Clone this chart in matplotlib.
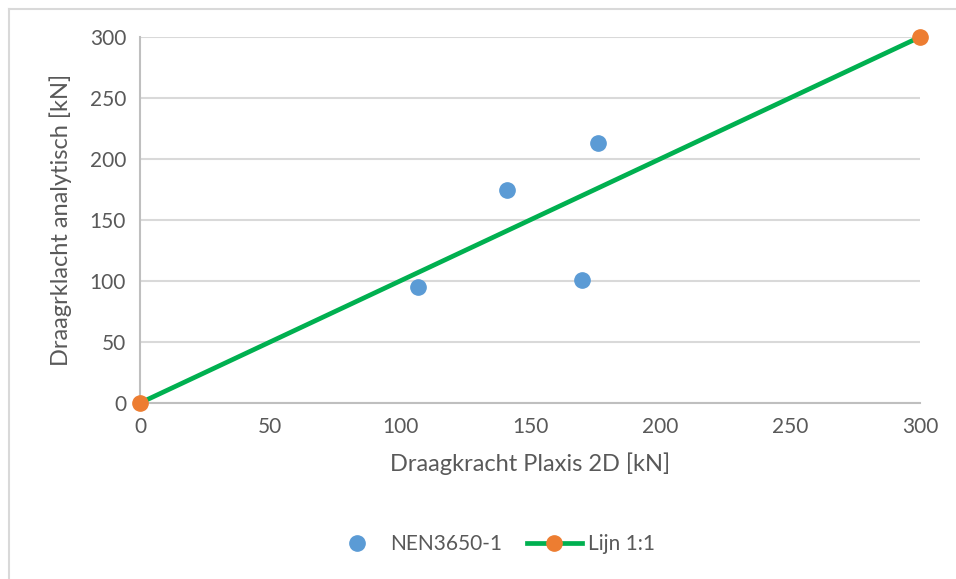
import matplotlib.pyplot as plt
from matplotlib.lines import Line2D

# --- data ---
plaxis_2d = [107, 141, 170, 176]
analytisch = [95, 175, 101, 213]
lijn_x = [0, 300]
lijn_y = [0, 300]
ticks = [0, 50, 100, 150, 200, 250, 300]

blauw = '#5B9BD5'
oranje = '#ED7D31'
groen = '#00B050'
tekst = '#595959'

plt.rcParams['font.family'] = ['Lato', 'DejaVu Sans']

fig = plt.figure(figsize=(9.56, 5.79), dpi=100)
ax = fig.add_axes([140 / 956, 1 - 403 / 579, 780 / 956, 366 / 579])

# kader rond de grafiek (alleen links en boven zichtbaar)
fig.add_artist(Line2D([8.5 / 956, 8.5 / 956], [0, 1 - 8.5 / 579], color='#D9D9D9', lw=1.5))
fig.add_artist(Line2D([8.5 / 956, 1], [1 - 8.5 / 579, 1 - 8.5 / 579], color='#D9D9D9', lw=1.5))

ax.plot(plaxis_2d, analytisch, 'o', color=blauw, markersize=11, label='NEN3650-1', zorder=3)
ax.plot(lijn_x, lijn_y, '-o', color=groen, lw=3.4, markerfacecolor=oranje,
        markeredgecolor=oranje, markersize=11, label='Lijn 1:1', zorder=4, clip_on=False)

ax.set_xlim(0, 300)
ax.set_ylim(0, 300)
ax.set_xticks(ticks)
ax.set_yticks(ticks)
ax.grid(axis='y', color='#D9D9D9', lw=1.5)
ax.set_axisbelow(True)
for s in ['top', 'right']:
    ax.spines[s].set_visible(False)
for s in ['left', 'bottom']:
    ax.spines[s].set_color('#BFBFBF')
    ax.spines[s].set_linewidth(1.5)
ax.tick_params(length=0, labelsize=15, labelcolor=tekst, pad=10)

ax.set_xlabel('Draagkracht Plaxis 2D [kN]', fontsize=17, color=tekst, labelpad=11)
ax.set_ylabel('Draagrklacht analytisch [kN]', fontsize=17, color=tekst, labelpad=13)

fig.legend(loc='center', bbox_to_anchor=(0.515, 1 - 544 / 579), ncol=2, frameon=False,
           fontsize=15, labelcolor=tekst, handlelength=2.6, columnspacing=1.2, handletextpad=0.3)

fig.savefig('out.png', dpi=100)
